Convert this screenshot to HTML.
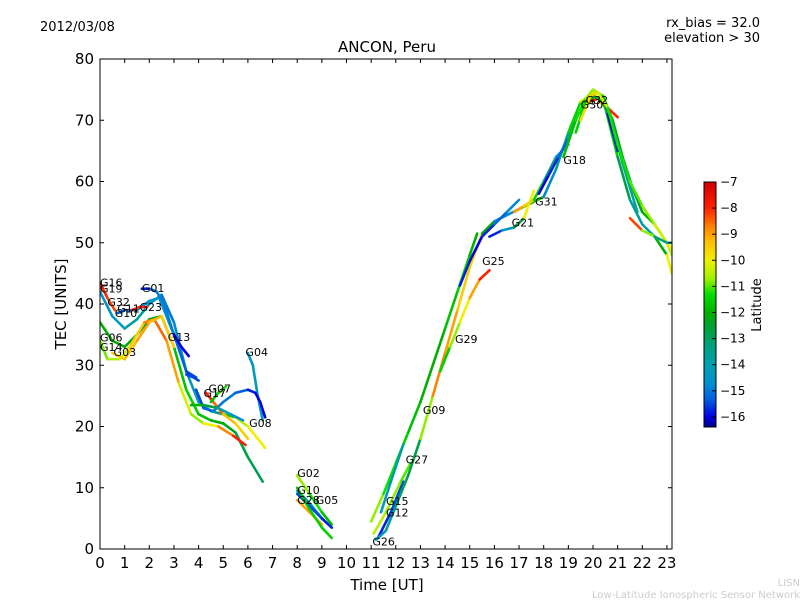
<!DOCTYPE html>
<html><head><meta charset="utf-8"><style>
body{margin:0;background:#fff;}
svg text{font-family:"DejaVu Sans","Liberation Sans",sans-serif;}
</style></head><body>
<svg id="chart" width="800" height="600" xmlns="http://www.w3.org/2000/svg">
<defs>
<linearGradient id="jet" x1="0" y1="1" x2="0" y2="0"></linearGradient>
<clipPath id="plotclip"><rect x="100" y="59" width="572" height="490"/></clipPath>
</defs>
<text x="40" y="31" font-size="13">2012/03/08</text>
<text x="760" y="27" font-size="13" text-anchor="end">rx_bias = 32.0</text>
<text x="760" y="42" font-size="13" text-anchor="end">elevation &gt; 30</text>
<text x="387" y="52" font-size="15" text-anchor="middle">ANCON, Peru</text>
<g id="series" clip-path="url(#plotclip)"></g>
<g id="labels"></g>
<rect x="100" y="59" width="572" height="490" fill="none" stroke="#000" stroke-width="1"/>
<g id="axes"></g>
<text x="387" y="590" font-size="15" text-anchor="middle">Time [UT]</text>
<text transform="translate(66,304) rotate(-90)" font-size="15" text-anchor="middle">TEC [UNITS]</text>
<rect x="704" y="182" width="12" height="245" fill="url(#jet)" stroke="#000" stroke-width="1"/>
<g id="cbaxis"></g>
<text transform="translate(761,305) rotate(-90)" font-size="13" text-anchor="middle">Latitude</text>
<text x="800" y="586" font-size="10" fill="#ccc" text-anchor="end">LISN</text>
<text x="800" y="598" font-size="10" fill="#ccc" text-anchor="end">Low-Latitude Ionospheric Sensor Network</text>
</svg>
<script>
const xTicks=[0,1,2,3,4,5,6,7,8,9,10,11,12,13,14,15,16,17,18,19,20,21,22,23];
const yTicks=[0,10,20,30,40,50,60,70,80];
const cbTicks=[-7,-8,-9,-10,-11,-12,-13,-14,-15,-16];
const cmapLat=[-16.38,-16,-15.3,-14.7,-14,-13.3,-12.5,-12,-11.3,-10.7,-10,-9.3,-8.7,-8,-7];
const cmapRGB=[[0,0,139],[0,0,224],[0,96,224],[0,144,208],[0,160,176],[0,160,128],[0,160,48],[0,176,0],[0,224,0],[160,240,0],[240,240,0],[255,192,0],[255,128,0],[255,32,0],[208,0,0]];
const trackNames=["G16","G19","G06","G14","G03","G11","G01","G13","G13b","G23","G07","G17","G04","Gb1","Gb2","G02","G10","G28","G05","Gg1","G26","G12","G15","G27","G09","G29","G25","G21","G31","G18","G30","G32","Gp1","Gp2","Gp3","Gt1"];
const trackT=[
[0,0.3,0.6],
[0,0.5,1,1.5,2,2.5,3,3.5,4,4.5,5,5.5,6,6.4,6.7],
[0,0.5,1,1.5,2,2.5,3,3.5,4,4.5,5,5.5,6,6.6],
[0,0.3,0.8,1.2,1.8,2.2,2.7,3.2,3.7,4.2,4.8,5.4,5.9],
[0.5,1,1.5,2,2.5,3],
[0.7,1,1.5,2,2.4,2.8,3.2],
[1.7,2,2.3,2.6,3,3.5,3.9],
[3,3.3,3.6],
[3.5,3.8,4],
[1.3,1.6,1.9],
[4.3,4.6,5,5.5,6],
[4.5,4.8,5.1],
[6,6.2,6.4,6.6],
[3.9,4.2,4.6,5,5.5,6,6.3,6.5,6.7],
[3.7,4.2,4.8,5.3,5.8],
[8,8.5,9,9.4],
[8,8.5,9,9.4],
[8,8.5,9],
[8,8.5,9,9.4],
[8,8.5,9,9.4],
[11,11.5,12,12.5,13,13.5,14,14.5,15,15.3],
[11.3,11.8,12.3],
[11.1,11.6,12.2,12.6],
[11.4,11.8,12.3],
[11.2,11.6,12,12.5,13,13.5,14,14.5,15,15.5,16,16.5,17,17.5,18,18.5,19,19.5,20,20.5,21,21.5,22,22.5,23,23.2],
[13.8,14.2,14.6,15,15.4,15.8],
[14.6,15,15.5,16,16.5,17],
[15.8,16.3,16.8,17.2,17.6],
[16.8,17.2,17.6,18,18.5,19],
[17.8,18.2,18.6,19,19.4,20],
[18.8,19.3,19.7,20,20.4,20.8,21.2,21.6,22,22.5,23,23.2],
[19.8,20.2,20.6,21],
[19.3,19.7,20,20.4,20.8,21.2,21.8],
[20.6,20.8,21],
[19.5,19.9,20.2,20.6,21,21.5,22,22.5,23,23.2],
[21.5,22,22.5,23,23.2]
];
const trackV=[
[43.5,41,39],
[42,38,36,37.5,40,41.5,37,29,24,22.5,22,21.5,20,18,16.5],
[37,34,33,35,37.5,38,33,26,22,21,20.5,19,15,11],
[34,31,31,33,37,37.5,34,27,22,20.5,20,18.5,17],
[32,31,34,37,38,33],
[38.5,39,39,40.5,41,37,33],
[42.5,42.5,42,40,35,29,28],
[35,33,31.5],
[28.5,28,27.5],
[39,39.5,39.5],
[25.5,24,22,20.5,18],
[24,25.5,26.5],
[32,30,25,21],
[26,23,22.5,24,25.5,26,25.5,24,21.5],
[23.5,23.5,23,22,21],
[12,9,6,4],
[9.5,7.5,5,3.5],
[8,6,4],
[9,7,5,3.5],
[10,6.5,3.5,1.8],
[4.5,9,14,19,24,30,36,42,48,51.5],
[2,6,11],
[2.5,6,11,14],
[6,11,17],
[1.5,3,7,12,18,25,32,39,46,51.5,53.5,54.5,55.5,56.5,57.5,62,68,73,74.5,72,64,57,53,51,48,45],
[29,33,37,41,44,45.5],
[43,47,51,53,55,57],
[51,52,52.5,54,58.5],
[55,56,57,60,64,66],
[58,61,64,67,71,73.5],
[64,70,73.5,75,74,70,64,59,55,53,50,48],
[73,73.5,72,70.5],
[68,73,74,73,69,63,55],
[71,68,65],
[70,74,74.5,72,66,60,56,53,50,49],
[54,52,51,50,50]
];
const trackLat=[
[-8,-8,-8.5],
[-14.5,-14.5,-14,-13.5,-14,-15,-15,-14.5,-14,-14,-12.5,-10.5,-10.5,-9.5,-10.5],
[-12,-12,-12,-12.5,-12.5,-12,-12,-11.5,-11.5,-12,-12,-12.5,-12.8,-12.8],
[-11,-10.8,-10.5,-10,-9,-8.5,-8.5,-9.5,-11,-10.5,-9.5,-8,-7.8],
[-9.5,-9.5,-9,-9,-9.5,-9.5],
[-15.5,-15,-15,-14.5,-14.5,-14.8,-15],
[-16,-15.5,-15,-14.8,-15,-15.5,-15.5],
[-16,-16,-16],
[-15.5,-15.5,-15.5],
[-8,-8,-8],
[-7.8,-8,-9,-9.5,-9.5],
[-12,-11.5,-11],
[-14.5,-14.5,-14,-14.5],
[-15.5,-15.5,-15,-15,-15,-15.5,-16,-16,-16],
[-12,-12,-13.5,-14.5,-15],
[-10.5,-11,-11.5,-12],
[-14,-14.5,-14.5,-15],
[-9,-9,-9],
[-15.5,-15.5,-15.5,-16],
[-12,-11.5,-11.5,-11.5],
[-10.5,-11,-11.5,-11.5,-12,-12,-12,-11.5,-11.5,-12.5],
[-16,-15.5,-15.5],
[-10.5,-10.5,-11,-11],
[-14.5,-14,-13.5],
[-14,-14.5,-13,-13,-12.5,-9,-8.5,-9.5,-9.5,-9.5,-14.5,-15,-14.5,-9,-14.5,-15,-12,-11,-10,-10.5,-12.5,-13,-14.5,-13.5,-10.5,-9.5],
[-12,-11,-10.5,-9.5,-8.5,-7.5],
[-15.5,-16,-16,-15.5,-15,-14.5],
[-16,-15.5,-13.5,-12,-8],
[-9,-9,-10,-13,-14,-15],
[-16,-16,-15.5,-15,-13,-11],
[-12,-11.5,-11,-10.5,-11,-12,-12.5,-12.5,-12.5,-11.5,-11,-10],
[-7.5,-8,-8.5,-7.5],
[-11,-12,-12.5,-12.5,-13,-13.5,-14],
[-16,-16,-15.5],
[-10,-9.5,-9.5,-11,-11.5,-11,-11,-10.5,-10,-10],
[-8,-8.5,-13,-13.5,-14]
];
const labelNames=["G16","G19","G32","G11","G10","G23","G01","G06","G14","G03","G13","G07","G17","G04","G08","G02","G10","G28","G05","G26","G12","G15","G27","G09","G29","G25","G21","G31","G18","G32","G30"];
const labelT=[0,0,0.3,0.7,0.6,1.6,1.7,0,0,0.55,2.75,4.4,4.2,5.9,6.05,8,8,8,8.75,11.05,11.6,11.6,12.4,13.1,14.4,15.5,16.7,17.65,18.8,19.7,19.5];
const labelV=[43.5,42.5,40.3,39.3,38.5,39.5,42.6,34.5,33,32.2,34.6,26.2,25.5,32.2,20.6,12.4,9.6,8,8,1.2,6,7.8,14.6,22.7,34.3,47,53.3,56.7,63.5,73.3,72.6];

const NS="http://www.w3.org/2000/svg";
const X0=100,XS=24.65,Y0=549,YS=6.125;
function xs(t){return X0+t*XS;}
function ys(v){return Y0-v*YS;}
function cmap(lat){
  if(lat<=cmapLat[0]) return cmapRGB[0];
  for(let i=0;i<cmapLat.length-1;i++){
    if(lat<=cmapLat[i+1]){
      const f=(lat-cmapLat[i])/(cmapLat[i+1]-cmapLat[i]);
      return cmapRGB[i].map((c,k)=>Math.round(c+(cmapRGB[i+1][k]-c)*f));
    }
  }
  return cmapRGB[cmapRGB.length-1];
}
function col(lat){const c=cmap(lat);return `rgb(${c[0]},${c[1]},${c[2]})`;}
const grad=document.getElementById('jet');
cmapLat.forEach((l,i)=>{
  const s=document.createElementNS(NS,'stop');
  s.setAttribute('offset',Math.max(0,(l+16.38)/(9.38)));
  s.setAttribute('stop-color',col(l));
  grad.appendChild(s);
});
const sg=document.getElementById('series');
trackT.forEach((ts,i)=>{
  const g=document.createElementNS(NS,'g');
  
  
  for(let k=0;k<ts.length-1;k++){
    const l=document.createElementNS(NS,'line');
    
    
    l.setAttribute('x1',xs(ts[k]));l.setAttribute('y1',ys(trackV[i][k]));
    l.setAttribute('x2',xs(ts[k+1]));l.setAttribute('y2',ys(trackV[i][k+1]));
    l.setAttribute('stroke',col((trackLat[i][k]+trackLat[i][k+1])/2));
    l.setAttribute('stroke-width','2.6');l.setAttribute('stroke-linecap','round');
    g.appendChild(l);
  }
  sg.appendChild(g);
});
const lg=document.getElementById('labels');
labelNames.forEach((n,i)=>{
  const t=document.createElementNS(NS,'text');
  
  
  t.setAttribute('x',xs(labelT[i]));t.setAttribute('y',ys(labelV[i])+4);
  t.setAttribute('font-size','11');t.textContent=n;lg.appendChild(t);
});
const ax=document.getElementById('axes');
function add(tag,attrs,txt,name){const e=document.createElementNS(NS,tag);for(const k in attrs)e.setAttribute(k,attrs[k]);if(txt!==undefined)e.textContent=txt;


return e;}
xTicks.forEach(t=>{
  const x=xs(t);
  ax.appendChild(add('line',{x1:x,y1:549,x2:x,y2:545,stroke:'#000'},undefined,'x-tick'));
  ax.appendChild(add('line',{x1:x,y1:59,x2:x,y2:63,stroke:'#000'},undefined,'x-tick-top'));
  ax.appendChild(add('text',{x:x,y:568,'font-size':15,'text-anchor':'middle'},String(t),'x-tick-label'));
});
yTicks.forEach(v=>{
  const y=ys(v);
  ax.appendChild(add('line',{x1:100,y1:y,x2:104,y2:y,stroke:'#000'},undefined,'y-tick'));
  ax.appendChild(add('line',{x1:672,y1:y,x2:668,y2:y,stroke:'#000'},undefined,'y-tick-right'));
  ax.appendChild(add('text',{x:94,y:y+5,'font-size':15,'text-anchor':'end'},String(v),'y-tick-label'));
});
const cb=document.getElementById('cbaxis');
cbTicks.forEach(v=>{
  const y=182+(-7-v)*26.1;
  cb.appendChild(add('line',{x1:712,y1:y,x2:716,y2:y,stroke:'#000'},undefined,'colorbar-tick'));
  cb.appendChild(add('text',{x:720,y:y+4,'font-size':12},'\u2212'+Math.abs(v),'colorbar-tick-label'));
});
</script>
</body></html>
